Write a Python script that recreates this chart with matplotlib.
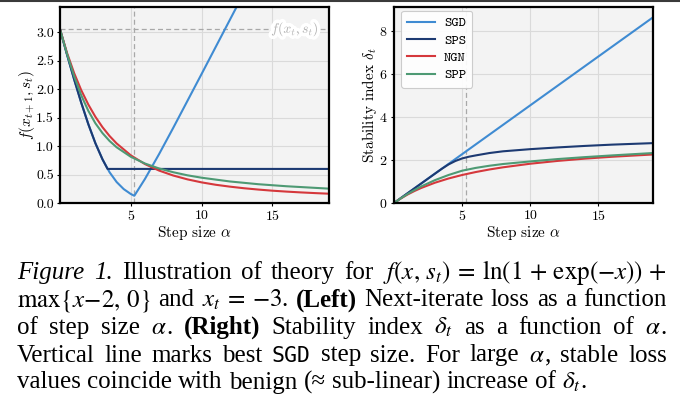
import matplotlib
matplotlib.use('Agg')
import matplotlib.pyplot as plt
import matplotlib.patheffects as pe
from matplotlib.lines import Line2D

# ---------------- data ----------------
best_sgd_alpha = 5.25
f_xt = 3.049

sgd_loss_alpha = [0, 0.5, 1, 1.5, 2, 2.5, 3, 3.5, 4, 4.5, 5, 5.25, 6, 7, 8, 10, 12, 13]
sgd_loss = [3.049, 2.601, 2.168, 1.760, 1.384, 1.049, 0.767, 0.540, 0.368, 0.244,
            0.158, 0.127, 0.422, 0.859, 1.320, 2.264, 3.216, 3.692]

sps_loss_alpha = [0, 0.5, 1, 1.5, 2, 2.5, 3, 3.36, 19]
sps_loss = [3.049, 2.601, 2.168, 1.760, 1.384, 1.049, 0.767, 0.598, 0.598]

ngn_loss_alpha = [0, 0.5, 1, 1.5, 2, 2.5, 3, 3.5, 4, 5, 6, 7, 8, 9, 10, 11, 12, 13,
                  14, 15, 16, 17, 18, 19]
ngn_loss = [3.049, 2.631, 2.279, 1.980, 1.728, 1.513, 1.331, 1.176, 1.045, 0.837,
            0.683, 0.569, 0.482, 0.415, 0.362, 0.320, 0.287, 0.259, 0.236, 0.216,
            0.200, 0.186, 0.174, 0.163]

spp_loss_alpha = [0, 0.5, 1, 1.5, 2, 2.5, 3, 3.5, 4, 5, 6, 7, 8, 9, 10, 12, 14, 16, 19]
spp_loss = [3.049, 2.613, 2.223, 1.890, 1.618, 1.399, 1.227, 1.089, 0.978, 0.811,
            0.693, 0.606, 0.540, 0.486, 0.444, 0.378, 0.330, 0.294, 0.252]

sgd_delta_alpha = [0, 19]
sgd_delta = [0, 8.62]

sps_delta_alpha = [0, 1, 2, 3, 3.5, 4, 4.5, 5, 5.5, 6, 7, 8, 9, 10, 12, 14, 16, 19]
sps_delta = [0, 0.454, 0.907, 1.361, 1.585, 1.79, 1.95, 2.07, 2.15, 2.21, 2.32, 2.40,
             2.45, 2.50, 2.58, 2.65, 2.71, 2.78]

ngn_delta_alpha = [0, 0.5, 1, 1.5, 2, 3, 4, 5, 6, 7, 8, 10, 12, 14, 16, 19]
ngn_delta = [0, 0.211, 0.395, 0.556, 0.699, 0.941, 1.138, 1.301, 1.438, 1.556, 1.657,
             1.824, 1.954, 2.060, 2.147, 2.253]

spp_delta_alpha = [0, 0.5, 1, 1.5, 2, 3, 4, 5, 6, 7, 8, 10, 12, 14, 16, 19]
spp_delta = [0, 0.216, 0.42, 0.60, 0.77, 1.06, 1.30, 1.50, 1.63, 1.73, 1.81, 1.93,
             2.04, 2.13, 2.21, 2.32]

methods = ['SGD', 'SPS', 'NGN', 'SPP']
colors = {'SGD': '#3f8bd2', 'SPS': '#1d3a72', 'NGN': '#d5383c', 'SPP': '#4e9a74'}

left_yticks = [0.0, 0.5, 1.0, 1.5, 2.0, 2.5, 3.0]
right_yticks = [0, 2, 4, 6, 8]
xticks = [5, 10, 15]

# ---------------- style ----------------
plt.rcParams.update({
    'font.family': 'serif',
    'font.serif': ['cmr10'],
    'mathtext.fontset': 'cm',
    'axes.unicode_minus': False,
    'axes.formatter.use_mathtext': True,
})

W, H = 680, 404
fig = plt.figure(figsize=(W / 100, H / 100), dpi=100)


def rect(l, t, r, b):
    return [l / W, 1 - b / H, (r - l) / W, (b - t) / H]


axL = fig.add_axes(rect(60, 7, 329, 203))
axR = fig.add_axes(rect(394, 7, 653, 203))

for ax in (axL, axR):
    ax.set_facecolor('#f3f3f3')
    ax.grid(True, color='#dadada', lw=0.8)
    ax.set_axisbelow(True)
    for s in ax.spines.values():
        s.set_linewidth(1.6)
        s.set_color('black')
    ax.tick_params(length=2.5, width=0.8, labelsize=10, pad=2)
    ax.set_xticks(xticks)
    ax.set_xlim(0, 19)
    ax.set_xlabel(r'Step size $\alpha$', fontsize=11, labelpad=0.5)
    ax.axvline(best_sgd_alpha, color='#a8a8a8', lw=0.9, ls=(0, (4, 2.5)), zorder=1.5)

lw = 1.5
# left panel
axL.plot(sgd_loss_alpha, sgd_loss, color=colors['SGD'], lw=lw)
axL.plot(sps_loss_alpha, sps_loss, color=colors['SPS'], lw=lw)
axL.plot(ngn_loss_alpha, ngn_loss, color=colors['NGN'], lw=lw)
axL.plot(spp_loss_alpha, spp_loss, color=colors['SPP'], lw=lw)
axL.axhline(f_xt, color='#a8a8a8', lw=0.9, ls=(0, (4, 2.5)), zorder=1.5)
axL.text(16.6, f_xt, r'$f(x_t, s_t)$', color='#b4b4b4', fontsize=10,
         ha='center', va='center', zorder=3,
         path_effects=[pe.withStroke(linewidth=5, foreground='white')])
axL.set_ylim(0, 3.44)
axL.set_yticks(left_yticks)
axL.set_yticklabels([f'{v:.1f}' for v in left_yticks])
axL.set_ylabel(r'$f(x_{t+1}, s_t)$', fontsize=11, labelpad=-1)

# right panel
axR.plot(sgd_delta_alpha, sgd_delta, color=colors['SGD'], lw=lw, label='SGD')
axR.plot(sps_delta_alpha, sps_delta, color=colors['SPS'], lw=lw, label='SPS')
axR.plot(ngn_delta_alpha, ngn_delta, color=colors['NGN'], lw=lw, label='NGN')
axR.plot(spp_delta_alpha, spp_delta, color=colors['SPP'], lw=lw, label='SPP')
axR.set_ylim(0, 9.1)
axR.set_yticks(right_yticks)
axR.set_ylabel(r'Stability index $\delta_t$', fontsize=11, labelpad=0)
leg = axR.legend(loc='upper left', bbox_to_anchor=(7 / 259, 1 - 3.5 / 196),
                 borderaxespad=0, prop={'family': 'cmtt10', 'size': 10},
                 handlelength=2.0, handletextpad=0.65, labelspacing=0.33,
                 borderpad=0.45, fancybox=True, framealpha=0.9,
                 edgecolor='#c8c8c8')
leg.get_frame().set_linewidth(0.8)

# top border line of the screenshot
fig.add_artist(Line2D([0, 1], [1 - 1 / H, 1 - 1 / H], transform=fig.transFigure,
                      color='#3a3a3a', lw=1.5))

# ---------------- caption (justified) ----------------
FS = 18
SERIF = 'Liberation Serif'
styles = {
    'r': dict(family=SERIF, size=FS),
    'i': dict(family=SERIF, size=FS, style='italic'),
    'b': dict(family=SERIF, size=FS, weight='bold'),
    'm': dict(family=SERIF, size=FS, math_fontfamily='stix'),
    't': dict(family='DejaVu Sans Mono', size=15.5),
}

caption_lines = [
    [[('Figure', 'i')], [('1.', 'i')], [('Illustration', 'r')], [('of', 'r')],
     [('theory', 'r')], [('for', 'r')],
     [(r'$f(x,\, s_t) \:=\: \ln(1 \,+\, \exp(-x)) \,+$', 'm')]],
    [[(r'$\max\{x\!-\!2,\, 0\}$', 'm')], [('and', 'r')], [(r'$x_t \:=\: -3$', 'm'), ('.', 'r')],
     [('(Left)', 'b')], [('Next-iterate', 'r')], [('loss', 'r')], [('as', 'r')],
     [('a', 'r')], [('function', 'r')]],
    [[('of', 'r')], [('step', 'r')], [('size', 'r')], [(r'$\alpha$', 'm'), ('.', 'r')],
     [('(Right)', 'b')], [('Stability', 'r')], [('index', 'r')], [(r'$\delta_t$', 'm')],
     [('as', 'r')], [('a', 'r')], [('function', 'r')], [('of', 'r')],
     [(r'$\alpha$', 'm'), ('.', 'r')]],
    [[('Vertical', 'r')], [('line', 'r')], [('marks', 'r')], [('best', 'r')],
     [('SGD', 't')], [('step', 'r')], [('size.', 'r')], [('For', 'r')], [('large', 'r')],
     [(r'$\alpha$', 'm'), (',', 'r')], [('stable', 'r')], [('loss', 'r')]],
    [[('values', 'r')], [('coincide', 'r')], [('with', 'r')], [('benign', 'r')],
     [('(≈', 'r')], [('sub-linear)', 'r')], [('increase', 'r')], [('of', 'r')],
     [(r'$\delta_t$', 'm'), ('.', 'r')]],
]
justify = [True, True, True, True, False]
baselines = [279, 306.5, 334, 361.5, 388.5]
x_left, x_right = 17, 667

renderer = fig.canvas.get_renderer()
space_px = 0.25 * FS * 100 / 72
for line, just, yb in zip(caption_lines, justify, baselines):
    tokens = []
    for tok in line:
        segs = []
        for txt, st in tok:
            t = fig.text(0, 1 - yb / H, txt, ha='left', va='baseline', **styles[st])
            w = t.get_window_extent(renderer).width
            segs.append((t, w))
        tokens.append(segs)
    widths = [sum(w for _, w in segs) for segs in tokens]
    if just and len(tokens) > 1:
        gap = (x_right - x_left - sum(widths)) / (len(tokens) - 1)
    else:
        gap = space_px
    x = x_left
    for segs, wt in zip(tokens, widths):
        xx = x
        for t, w in segs:
            t.set_x(xx / W)
            xx += w
        x += wt + gap

fig.savefig('out.png', dpi=100)
